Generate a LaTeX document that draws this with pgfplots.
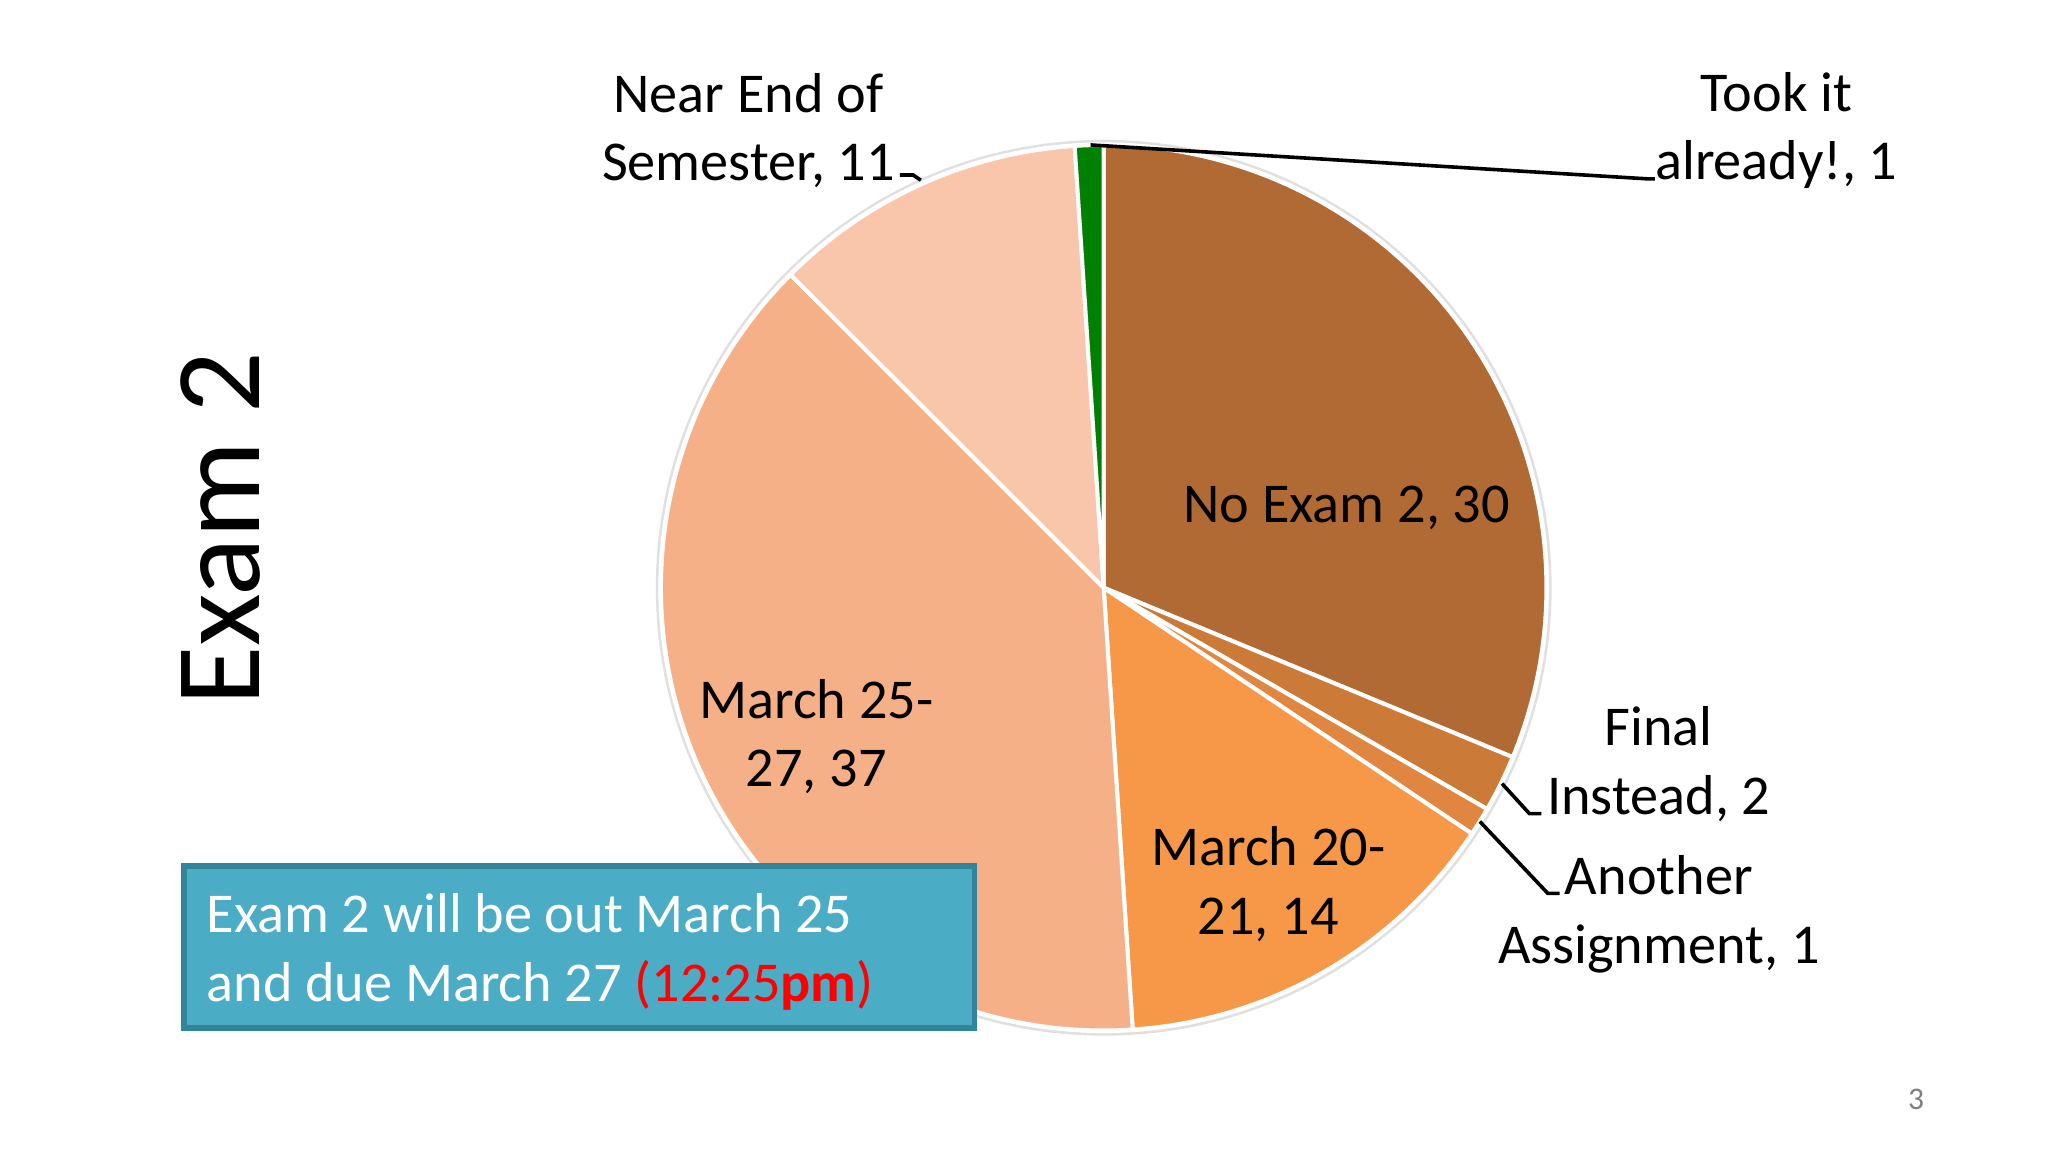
\documentclass[border=0pt]{standalone}
\usepackage{pgfplots}
\pgfplotsset{compat=1.18}
\usepackage{pgfplotstable}
\usetikzlibrary{calc}
\usepackage{fontspec}
\setmainfont{Carlito}
\definecolor{cNo}{RGB}{178,106,52}
\definecolor{cFin}{RGB}{204,122,56}
\definecolor{cAno}{RGB}{224,134,64}
\definecolor{cM20}{RGB}{247,152,72}
\definecolor{cM25}{RGB}{246,176,135}
\definecolor{cNear}{RGB}{249,197,171}
\definecolor{cTook}{RGB}{0,128,0}
\definecolor{boxfill}{RGB}{75,172,198}
\definecolor{boxline}{RGB}{49,133,155}

% slices, clockwise from 12 o'clock
\pgfplotstableread{
value col
30 cNo
2 cFin
1 cAno
14 cM20
37 cM25
11 cNear
1 cTook
}\slices

\newcommand\lbl{\fontsize{12.5}{15.3}\selectfont}

\begin{document}
\begin{tikzpicture}
\begin{axis}[hide axis, scale only axis, width=16cm, height=9cm,
  xmin=0, xmax=1568, ymin=0, ymax=882, clip=false]
\pgfplotsextra{
  \fill[white] (axis cs:0,0) rectangle (axis cs:1568,882);
  \pgfmathsetmacro\R{339*16/1568}
  \coordinate (C) at (axis cs:845,432);
  \fill[black!12] ($(C)+(0.03,-0.04)$) circle[radius=\R cm+0.04cm];
  \fill[white] (C) circle[radius=\R cm+0.02cm];
  \pgfplotstablegetrowsof{\slices}
  \pgfmathtruncatemacro\nrows{\pgfplotsretval-1}
  \def\start{90}
  \foreach \i in {0,...,\nrows}{
    \pgfplotstablegetelem{\i}{value}\of{\slices}\let\v\pgfplotsretval
    \pgfplotstablegetelem{\i}{col}\of{\slices}\let\c\pgfplotsretval
    \pgfmathsetmacro\stop{\start-\v/96*360}
    \fill[\c, draw=white, line width=0.9pt, line join=round]
      (C) -- ++(\start:\R cm) arc[start angle=\start, end angle=\stop, radius=\R cm] -- cycle;
    \global\let\start\stop
  }
}
% leader lines
\draw[black, line width=0.8pt] (axis cs:835,771) -- (axis cs:1262,745) -- (axis cs:1267,745);
\draw[black, line width=0.8pt] (axis cs:689,748) -- (axis cs:699,748) -- (axis cs:705,744);
\draw[black, line width=0.8pt] (axis cs:1150,282) -- (axis cs:1171,259) -- (axis cs:1180,259);
\draw[black, line width=0.8pt] (axis cs:1133,253) -- (axis cs:1185,198) -- (axis cs:1194,198);
% slice labels
\node[align=center, font=\lbl] at (axis cs:1031,493) {No Exam 2, 30};
\node[align=center, font=\lbl] at (axis cs:1270,297) {Final\\Instead, 2};
\node[align=center, font=\lbl] at (axis cs:1270,182) {Another\\Assignment, 1};
\node[align=center, font=\lbl] at (axis cs:971,205) {March 20-\\21, 14};
\node[align=center, font=\lbl] at (axis cs:625,318) {March 25-\\27, 37};
\node[align=center, font=\lbl] at (axis cs:573,782) {Near End of\\Semester, 11};
\node[align=center, font=\lbl] at (axis cs:1360,782) {Took it\\already!, 1};
% title
\node[rotate=90, font=\fontsize{27}{32}\selectfont] at (axis cs:169,477) {Exam 2};
% note box
\draw[fill=boxfill, draw=boxline, line width=1.2pt] (axis cs:141,95) rectangle (axis cs:746,219);
\node[anchor=west, align=left, text=white, font=\lbl] at (axis cs:146,153)
  {Exam 2 will be out March 25\\and due March 27 \textcolor{red}{(12:25\textbf{pm})}};
\node[text=black!50, font=\fontsize{7}{8}\selectfont] at (axis cs:1467,40) {3};
\end{axis}
\end{tikzpicture}
\end{document}
